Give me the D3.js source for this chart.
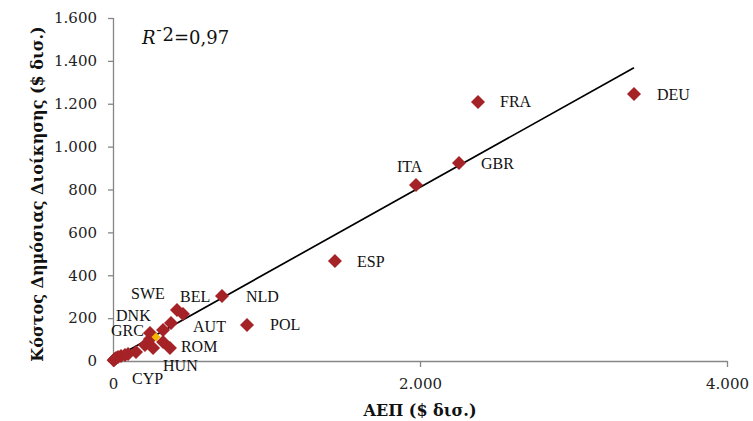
<!DOCTYPE html>
<html>
<head>
<meta charset="utf-8">
<script src="https://cdn.jsdelivr.net/npm/d3@7/dist/d3.min.js"></script>
<style>
html,body{margin:0;padding:0;background:#fff;}
</style>
</head>
<body>
<svg id="chart" width="753" height="421"></svg>
<script>
// ---- data ----
const countries = ["DEU","FRA","GBR","ITA","ESP","POL","NLD","SWE","BEL","AUT","DNK","FIN","PRT","IRL","ROM","HUN","CZE","SVK","SVN","LTU","BGR","CYP","LVA","LUX","EST","MLT","GRC"];
const gdp   = [3394,2378,2254,1974,1446,873,710,417,456,378,326,241,326,241,371,261,208,150,98,78,52,33,20,14,8,4,280];
const cost  = [1245,1208,924,821,466,168,303,238,219,177,145,131,89,103,61,61,75,42,33,28,23,19,14,10,6,3,112];
const labeled = ["DEU","FRA","GBR","ITA","ESP","POL","NLD","SWE","BEL","AUT","DNK","GRC","ROM","HUN","CYP"];
const highlight = "GRC";
const xTicks = [0,2000,4000];
const yTicks = [0,200,400,600,800,1000,1200,1400,1600];
const trendX = [20,3394];
const trendY = [18,1368];
const r2Text = "0,97";
const xTitle = "ΑΕΠ ($ δισ.)";
const yTitle = "Κόστος Δημόσιας Διοίκησης ($ δισ.)";

// ---- drawing ----
const svg = d3.select("#chart");
const x = d3.scaleLinear().domain([0,4000]).range([113,727]);
const y = d3.scaleLinear().domain([0,1600]).range([361,18]);
const loc = d3.formatLocale({decimal:",",thousands:".",grouping:[3],currency:["",""]});
const fmt = loc.format(",d");
const axisColor = "#868686";
const tickFont = "'DejaVu Serif', Georgia, serif";

const gy = svg.append("g").attr("transform","translate(113,0)")
  .call(d3.axisLeft(y).tickValues(yTicks).tickFormat(fmt).tickSize(5).tickPadding(11));
const gx = svg.append("g").attr("transform","translate(0,361)")
  .call(d3.axisBottom(x).tickValues(xTicks).tickFormat(fmt).tickSize(6).tickPadding(11));
[gx,gy].forEach(g=>{
  g.select(".domain").attr("stroke",axisColor).attr("stroke-width",1.3);
  g.selectAll(".tick line").attr("stroke",axisColor).attr("stroke-width",1.3);
  g.selectAll(".tick text").attr("fill","#222").style("font-family",tickFont).style("font-size","15px");
});
gx.select(".domain").attr("d","M113.5,0.5H727.5");
gy.select(".domain").attr("d","M0.5,18H0.5V361.5");

// trendline
svg.append("line")
  .attr("x1",x(trendX[0])).attr("y1",y(trendY[0]))
  .attr("x2",x(trendX[1])).attr("y2",y(trendY[1]))
  .attr("stroke","#000").attr("stroke-width",1.7);

const data = countries.map((c,i)=>({c, gx:gdp[i], gy:cost[i]}));
const diamond = r => `M0,${-r}L${r},0L0,${r}L${-r},0Z`;

svg.append("g").selectAll("path").data(data.filter(d=>d.c!==highlight)).join("path")
  .attr("d",diamond(7))
  .attr("transform",d=>`translate(${x(d.gx)},${y(d.gy)})`)
  .attr("fill","#A52226");

svg.append("g").selectAll("path").data(data.filter(d=>d.c===highlight)).join("path")
  .attr("d",diamond(4.5))
  .attr("transform",d=>`translate(${x(d.gx)},${y(d.gy)})`)
  .attr("fill","#F4B400");

// label offsets relative to marker centre (text left, baseline)
const offs = {
  DEU:[23,6], FRA:[22,5], GBR:[22,6], ITA:[-19,-13], ESP:[22,6], POL:[23,5],
  NLD:[24,6], SWE:[-46,-11], BEL:[-3,-12], AUT:[22,9], DNK:[-47,-9], GRC:[-45,-1],
  ROM:[11,4], HUN:[10,23], CYP:[14,27]
};
svg.append("g").selectAll("text").data(data.filter(d=>labeled.includes(d.c))).join("text")
  .attr("x",d=>x(d.gx)+offs[d.c][0])
  .attr("y",d=>y(d.gy)+offs[d.c][1])
  .text(d=>d.c)
  .style("font-family","'Liberation Serif','Times New Roman',serif")
  .style("font-size","16px").attr("fill","#111");

// R^2
const rt = svg.append("text").attr("x",142).attr("y",44)
  .style("font-family",tickFont).style("font-size","18px").attr("fill","#111");
rt.append("tspan").text("R").style("font-style","italic");
rt.append("tspan").text("¯").style("font-size","14px").attr("dy",-3);
rt.append("tspan").text("2");
rt.append("tspan").text("="+r2Text).attr("dy",3);

// axis titles
svg.append("text").attr("x",420).attr("y",416).attr("text-anchor","middle")
  .style("font-family",tickFont).style("font-weight","bold").style("font-size","16px")
  .attr("fill","#111").text(xTitle);
svg.append("text").attr("transform","translate(43,194) rotate(-90)").attr("text-anchor","middle")
  .style("font-family",tickFont).style("font-weight","bold").style("font-size","16px")
  .attr("fill","#111").text(yTitle);
</script>
</body>
</html>
